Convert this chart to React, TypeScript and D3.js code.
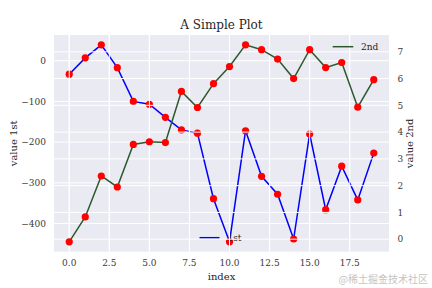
import React from "react";
import * as d3 from "d3";

const xIndex = d3.range(20);
const series1st = [-33, 7, 39, -17, -100, -107, -139, -170, -178, -339, -445, -172, -284, -328, -438, -180, -366, -259, -342, -227];
const series2nd = [-0.1, 0.83, 2.36, 1.95, 3.54, 3.64, 3.61, 5.52, 4.92, 5.81, 6.45, 7.26, 7.08, 6.73, 6.0, 7.08, 6.41, 6.6, 4.93, 5.96];
const xTicks = [0, 2.5, 5, 7.5, 10, 12.5, 15, 17.5];
const leftTicks = [-400, -300, -200, -100, 0];
const rightTicks = [0, 1, 2, 3, 4, 5, 6, 7];

const W = 432, H = 288;
const L = 54, R = 389, T = 35, B = 251.7;
const FONT = "'DejaVu Serif', serif";
const TXT = "#262626";
const GREEN = "#2d5a2d";

function padDomain(vals: number[]): [number, number] {
  const [mn, mx] = d3.extent(vals) as [number, number];
  const m = (mx - mn) * 0.05;
  return [mn - m, mx + m];
}

export default function App() {
  const x = d3.scaleLinear().domain(padDomain(xIndex)).range([L, R]);
  const y1 = d3.scaleLinear().domain(padDomain(series1st)).range([B, T]);
  const y2 = d3.scaleLinear().domain(padDomain(series2nd)).range([B, T]);
  const line1 = d3.line<number>().x((_, i) => x(xIndex[i])).y((d) => y1(d));
  const line2 = d3.line<number>().x((_, i) => x(xIndex[i])).y((d) => y2(d));
  const fmtX = d3.format(".1f");
  const fmtY = (v: number) => (v < 0 ? "\u2212" + Math.abs(v) : String(v));

  return (
    <svg width={W} height={H} style={{ position: "absolute", left: 0, top: 0 }} fontFamily={FONT}>
      <rect x={0} y={0} width={W} height={H} fill="white" />
      <rect x={L} y={T} width={R - L} height={B - T} fill="#EAEAF2" />
      {/* ax1 grid */}
      <g stroke="white" strokeWidth={1}>
        {xTicks.map((t) => (
          <line key={"vx1" + t} x1={x(t)} x2={x(t)} y1={T} y2={B} />
        ))}
        {leftTicks.map((t) => (
          <line key={"h1" + t} x1={L} x2={R} y1={y1(t)} y2={y1(t)} />
        ))}
      </g>
      <path d={line1(series1st) || ""} fill="none" stroke="#0000ff" strokeWidth={1.5} />
      {series1st.map((v, i) => (
        <circle key={"p1" + i} cx={x(xIndex[i])} cy={y1(v)} r={3.6} fill="#ff0000" />
      ))}
      {/* legend 1st */}
      <line x1={199.5} x2={219.5} y1={237.7} y2={237.7} stroke="#0000ff" strokeWidth={1.5} />
      <text x={227.5} y={241} fontSize={9} fill={TXT}>1st</text>
      {/* ax2 grid */}
      <g stroke="white" strokeWidth={1}>
        {xTicks.map((t) => (
          <line key={"vx2" + t} x1={x(t)} x2={x(t)} y1={T} y2={B} />
        ))}
        {rightTicks.map((t) => (
          <line key={"h2" + t} x1={L} x2={R} y1={y2(t)} y2={y2(t)} />
        ))}
      </g>
      <path d={line2(series2nd) || ""} fill="none" stroke={GREEN} strokeWidth={1.5} />
      {series2nd.map((v, i) => (
        <circle key={"p2" + i} cx={x(xIndex[i])} cy={y2(v)} r={3.6} fill="#ff0000" />
      ))}
      {/* legend 2nd */}
      <line x1={332.7} x2={353.3} y1={46.7} y2={46.7} stroke={GREEN} strokeWidth={1.5} />
      <text x={361} y={50} fontSize={9} fill={TXT}>2nd</text>
      {/* tick labels */}
      <g fontSize={9} fill="#3a3a3a">
        {xTicks.map((t) => (
          <text key={"xt" + t} x={x(t)} y={266} textAnchor="middle">{fmtX(t)}</text>
        ))}
        {leftTicks.map((t) => (
          <text key={"lt" + t} x={46} y={y1(t) + 3.3} textAnchor="end">{fmtY(t)}</text>
        ))}
        {rightTicks.map((t) => (
          <text key={"rt" + t} x={397.5} y={y2(t) + 3.3} textAnchor="start">{fmtY(t)}</text>
        ))}
      </g>
      {/* axis labels */}
      <text x={(L + R) / 2} y={280} textAnchor="middle" fontSize={10} fill={TXT}>index</text>
      <text transform={`translate(17,${(T + B) / 2}) rotate(-90)`} textAnchor="middle" fontSize={10} fill={TXT}>value 1st</text>
      <text transform={`translate(413,${(T + B) / 2}) rotate(-90)`} textAnchor="middle" fontSize={10} fill={TXT}>value 2nd</text>
      <text x={(L + R) / 2} y={29} textAnchor="middle" fontSize={12} fill={TXT}>A Simple Plot</text>
      {/* watermark */}
      <text x={428} y={283} textAnchor="end" fontSize={10} fill="#c4c4c4" fontFamily="'Noto Sans CJK SC', sans-serif">@稀土掘金技术社区</text>
    </svg>
  );
}
